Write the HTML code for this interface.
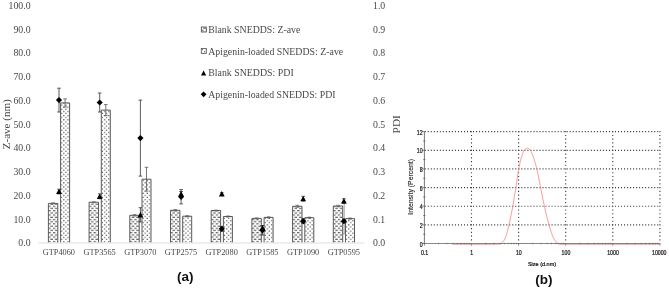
<!DOCTYPE html>
<html><head><meta charset="utf-8"><title>Figure</title>
<style>
html,body{margin:0;padding:0;background:#fff;}
svg{display:block;will-change:transform;}
.s{font-family:"Liberation Serif","DejaVu Serif",serif;fill:#484848;}
.a{font-family:"Liberation Sans","DejaVu Sans",sans-serif;fill:#111;}
.t{stroke:#111;stroke-width:0.22px;}
</style></head><body>
<svg width="669" height="289" viewBox="0 0 669 289">
<defs>
<pattern id="pb" width="4.5" height="4.4" patternUnits="userSpaceOnUse">
<rect width="4.5" height="4.4" fill="#fff"/>
<rect x="2.0" y="0.6" width="2.5" height="1" fill="#444"/>
<rect x="0" y="2.8" width="2.3" height="1" fill="#444"/>
</pattern>
<pattern id="pl" width="4.2" height="4.2" patternUnits="userSpaceOnUse">
<rect width="4.2" height="4.2" fill="#fff"/>
<rect x="0.5" y="0.5" width="1.2" height="1.2" fill="#555"/>
<rect x="2.6" y="2.6" width="1.2" height="1.2" fill="#555"/>
</pattern>
</defs>
<rect width="669" height="289" fill="#fff"/>

<text class="s" x="30.6" y="246.4" font-size="9.8" text-anchor="end">0.0</text>
<text class="s" x="30.6" y="222.7" font-size="9.8" text-anchor="end">10.0</text>
<text class="s" x="30.6" y="198.9" font-size="9.8" text-anchor="end">20.0</text>
<text class="s" x="30.6" y="175.2" font-size="9.8" text-anchor="end">30.0</text>
<text class="s" x="30.6" y="151.4" font-size="9.8" text-anchor="end">40.0</text>
<text class="s" x="30.6" y="127.6" font-size="9.8" text-anchor="end">50.0</text>
<text class="s" x="30.6" y="103.9" font-size="9.8" text-anchor="end">60.0</text>
<text class="s" x="30.6" y="80.1" font-size="9.8" text-anchor="end">70.0</text>
<text class="s" x="30.6" y="56.4" font-size="9.8" text-anchor="end">80.0</text>
<text class="s" x="30.6" y="32.6" font-size="9.8" text-anchor="end">90.0</text>
<text class="s" x="30.6" y="8.9" font-size="9.8" text-anchor="end">100.0</text>
<text class="s" x="373" y="246.4" font-size="9.8">0.0</text>
<text class="s" x="373" y="222.7" font-size="9.8">0.1</text>
<text class="s" x="373" y="198.9" font-size="9.8">0.2</text>
<text class="s" x="373" y="175.2" font-size="9.8">0.3</text>
<text class="s" x="373" y="151.4" font-size="9.8">0.4</text>
<text class="s" x="373" y="127.6" font-size="9.8">0.5</text>
<text class="s" x="373" y="103.9" font-size="9.8">0.6</text>
<text class="s" x="373" y="80.1" font-size="9.8">0.7</text>
<text class="s" x="373" y="56.4" font-size="9.8">0.8</text>
<text class="s" x="373" y="32.6" font-size="9.8">0.9</text>
<text class="s" x="373" y="8.9" font-size="9.8">1.0</text>
<text class="s" font-size="10.8" textLength="50" lengthAdjust="spacingAndGlyphs" transform="translate(10.0,149.3) rotate(-90)">Z-ave (nm)</text>
<text class="s" font-size="11.4" textLength="18.2" lengthAdjust="spacingAndGlyphs" transform="translate(400.4,133.4) rotate(-90)">PDI</text>
<g transform="translate(48.4,242.6)"><rect x="0" y="-39.2" width="9.4" height="39.2" fill="url(#pb)"/><path d="M0 0V-39.2h9.4V0" fill="none" stroke="#484848" stroke-width="0.9"/></g>
<g transform="translate(60.6,242.6)"><rect x="0" y="-139.7" width="9.0" height="139.7" fill="url(#pl)"/><path d="M0 0V-139.7h9.0V0" fill="none" stroke="#484848" stroke-width="0.9"/></g>
<path d="M53.1 202.9V203.9M51.3 202.9H54.9M51.3 203.9H54.9" stroke="#666" stroke-width="0.8" fill="none"/>
<path d="M65.1 98.9V107.0M63.3 98.9H66.9M63.3 107.0H66.9" stroke="#555" stroke-width="0.8" fill="none"/>
<text class="s" x="58.9" y="255.3" font-size="8.3" text-anchor="middle">GTP4060</text>
<g transform="translate(89.1,242.6)"><rect x="0" y="-40.4" width="9.4" height="40.4" fill="url(#pb)"/><path d="M0 0V-40.4h9.4V0" fill="none" stroke="#484848" stroke-width="0.9"/></g>
<g transform="translate(101.3,242.6)"><rect x="0" y="-132.5" width="9.0" height="132.5" fill="url(#pl)"/><path d="M0 0V-132.5h9.0V0" fill="none" stroke="#484848" stroke-width="0.9"/></g>
<path d="M93.8 201.8V202.7M92.0 201.8H95.6M92.0 202.7H95.6" stroke="#666" stroke-width="0.8" fill="none"/>
<path d="M105.8 104.6V115.5M104.0 104.6H107.6M104.0 115.5H107.6" stroke="#555" stroke-width="0.8" fill="none"/>
<text class="s" x="99.6" y="255.3" font-size="8.3" text-anchor="middle">GTP3565</text>
<g transform="translate(129.8,242.6)"><rect x="0" y="-27.3" width="9.4" height="27.3" fill="url(#pb)"/><path d="M0 0V-27.3h9.4V0" fill="none" stroke="#484848" stroke-width="0.9"/></g>
<g transform="translate(142.0,242.6)"><rect x="0" y="-63.4" width="9.0" height="63.4" fill="url(#pl)"/><path d="M0 0V-63.4h9.0V0" fill="none" stroke="#484848" stroke-width="0.9"/></g>
<path d="M134.5 214.6V216.0M132.7 214.6H136.3M132.7 216.0H136.3" stroke="#666" stroke-width="0.8" fill="none"/>
<path d="M146.5 167.3V191.1M144.7 167.3H148.3M144.7 191.1H148.3" stroke="#555" stroke-width="0.8" fill="none"/>
<text class="s" x="140.3" y="255.3" font-size="8.3" text-anchor="middle">GTP3070</text>
<g transform="translate(170.5,242.6)"><rect x="0" y="-32.3" width="9.4" height="32.3" fill="url(#pb)"/><path d="M0 0V-32.3h9.4V0" fill="none" stroke="#484848" stroke-width="0.9"/></g>
<g transform="translate(182.7,242.6)"><rect x="0" y="-26.4" width="9.0" height="26.4" fill="url(#pl)"/><path d="M0 0V-26.4h9.0V0" fill="none" stroke="#484848" stroke-width="0.9"/></g>
<path d="M175.2 209.6V211.0M173.4 209.6H177.0M173.4 211.0H177.0" stroke="#666" stroke-width="0.8" fill="none"/>
<path d="M187.2 215.8V216.7M185.4 215.8H189.0M185.4 216.7H189.0" stroke="#555" stroke-width="0.8" fill="none"/>
<text class="s" x="181.0" y="255.3" font-size="8.3" text-anchor="middle">GTP2575</text>
<g transform="translate(211.2,242.6)"><rect x="0" y="-32.1" width="9.4" height="32.1" fill="url(#pb)"/><path d="M0 0V-32.1h9.4V0" fill="none" stroke="#484848" stroke-width="0.9"/></g>
<g transform="translate(223.4,242.6)"><rect x="0" y="-26.1" width="9.0" height="26.1" fill="url(#pl)"/><path d="M0 0V-26.1h9.0V0" fill="none" stroke="#484848" stroke-width="0.9"/></g>
<path d="M215.9 210.1V211.0M214.1 210.1H217.7M214.1 211.0H217.7" stroke="#666" stroke-width="0.8" fill="none"/>
<path d="M227.9 216.0V216.9M226.1 216.0H229.7M226.1 216.9H229.7" stroke="#555" stroke-width="0.8" fill="none"/>
<text class="s" x="221.7" y="255.3" font-size="8.3" text-anchor="middle">GTP2080</text>
<g transform="translate(251.9,242.6)"><rect x="0" y="-24.2" width="9.4" height="24.2" fill="url(#pb)"/><path d="M0 0V-24.2h9.4V0" fill="none" stroke="#484848" stroke-width="0.9"/></g>
<g transform="translate(264.1,242.6)"><rect x="0" y="-25.2" width="9.0" height="25.2" fill="url(#pl)"/><path d="M0 0V-25.2h9.0V0" fill="none" stroke="#484848" stroke-width="0.9"/></g>
<path d="M256.6 217.9V218.8M254.8 217.9H258.4M254.8 218.8H258.4" stroke="#666" stroke-width="0.8" fill="none"/>
<path d="M268.6 216.9V217.9M266.8 216.9H270.4M266.8 217.9H270.4" stroke="#555" stroke-width="0.8" fill="none"/>
<text class="s" x="262.4" y="255.3" font-size="8.3" text-anchor="middle">GTP1585</text>
<g transform="translate(292.6,242.6)"><rect x="0" y="-36.3" width="9.4" height="36.3" fill="url(#pb)"/><path d="M0 0V-36.3h9.4V0" fill="none" stroke="#484848" stroke-width="0.9"/></g>
<g transform="translate(304.8,242.6)"><rect x="0" y="-24.9" width="9.0" height="24.9" fill="url(#pl)"/><path d="M0 0V-24.9h9.0V0" fill="none" stroke="#484848" stroke-width="0.9"/></g>
<path d="M297.3 205.3V207.2M295.5 205.3H299.1M295.5 207.2H299.1" stroke="#666" stroke-width="0.8" fill="none"/>
<path d="M309.3 217.2V218.1M307.5 217.2H311.1M307.5 218.1H311.1" stroke="#555" stroke-width="0.8" fill="none"/>
<text class="s" x="303.1" y="255.3" font-size="8.3" text-anchor="middle">GTP1090</text>
<g transform="translate(333.3,242.6)"><rect x="0" y="-36.6" width="9.4" height="36.6" fill="url(#pb)"/><path d="M0 0V-36.6h9.4V0" fill="none" stroke="#484848" stroke-width="0.9"/></g>
<g transform="translate(345.5,242.6)"><rect x="0" y="-24.0" width="9.0" height="24.0" fill="url(#pl)"/><path d="M0 0V-24.0h9.0V0" fill="none" stroke="#484848" stroke-width="0.9"/></g>
<path d="M338.0 205.3V206.7M336.2 205.3H339.8M336.2 206.7H339.8" stroke="#666" stroke-width="0.8" fill="none"/>
<path d="M350.0 218.1V219.1M348.2 218.1H351.8M348.2 219.1H351.8" stroke="#555" stroke-width="0.8" fill="none"/>
<text class="s" x="343.8" y="255.3" font-size="8.3" text-anchor="middle">GTP0595</text>
<line x1="38.6" x2="364.4" y1="243.0" y2="243.0" stroke="#dedede" stroke-width="1"/>
<path d="M59.0 88.2V112.0M57.2 88.2H60.8M57.2 112.0H60.8" stroke="#333" stroke-width="0.8" fill="none"/>
<path d="M59.0 189.2V193.9M57.2 189.2H60.8M57.2 193.9H60.8" stroke="#333" stroke-width="0.8" fill="none"/>
<path d="M59.0 188.7L61.9 194.1H56.1Z" fill="#000"/>
<path d="M59.0 97.0L62.1 100.1L59.0 103.2L55.9 100.1Z" fill="#000"/>
<path d="M99.7 93.0V112.0M97.9 93.0H101.5M97.9 112.0H101.5" stroke="#333" stroke-width="0.8" fill="none"/>
<path d="M99.7 193.9V198.7M97.9 193.9H101.5M97.9 198.7H101.5" stroke="#333" stroke-width="0.8" fill="none"/>
<path d="M99.7 193.5L102.6 198.9H96.8Z" fill="#000"/>
<path d="M99.7 99.4L102.8 102.5L99.7 105.6L96.6 102.5Z" fill="#000"/>
<path d="M140.4 100.1V176.1M138.6 100.1H142.2M138.6 176.1H142.2" stroke="#333" stroke-width="0.8" fill="none"/>
<path d="M140.4 207.7V221.9M138.6 207.7H142.2M138.6 221.9H142.2" stroke="#333" stroke-width="0.8" fill="none"/>
<path d="M140.4 212.0L143.3 217.4H137.5Z" fill="#000"/>
<path d="M140.4 135.0L143.5 138.1L140.4 141.2L137.3 138.1Z" fill="#000"/>
<path d="M181.1 189.6V203.9M179.3 189.6H182.9M179.3 203.9H182.9" stroke="#333" stroke-width="0.8" fill="none"/>
<path d="M181.1 191.5V196.3M179.3 191.5H182.9M179.3 196.3H182.9" stroke="#333" stroke-width="0.8" fill="none"/>
<path d="M181.1 191.1L184.0 196.5H178.2Z" fill="#000"/>
<path d="M181.1 193.7L184.2 196.8L181.1 199.9L178.0 196.8Z" fill="#000"/>
<path d="M221.8 226.4V231.2M220.0 226.4H223.6M220.0 231.2H223.6" stroke="#333" stroke-width="0.8" fill="none"/>
<path d="M221.8 192.7V195.1M220.0 192.7H223.6M220.0 195.1H223.6" stroke="#333" stroke-width="0.8" fill="none"/>
<path d="M221.8 191.1L224.7 196.5H218.9Z" fill="#000"/>
<path d="M221.8 225.7L224.9 228.8L221.8 231.9L218.7 228.8Z" fill="#000"/>
<path d="M262.5 225.5V235.0M260.7 225.5H264.3M260.7 235.0H264.3" stroke="#333" stroke-width="0.8" fill="none"/>
<path d="M262.5 225.5V230.2M260.7 225.5H264.3M260.7 230.2H264.3" stroke="#333" stroke-width="0.8" fill="none"/>
<path d="M262.5 225.1L265.4 230.5H259.6Z" fill="#000"/>
<path d="M262.5 227.2L265.6 230.2L262.5 233.3L259.4 230.2Z" fill="#000"/>
<path d="M303.2 218.8V223.6M301.4 218.8H305.0M301.4 223.6H305.0" stroke="#333" stroke-width="0.8" fill="none"/>
<path d="M303.2 196.3V201.0M301.4 196.3H305.0M301.4 201.0H305.0" stroke="#333" stroke-width="0.8" fill="none"/>
<path d="M303.2 195.9L306.1 201.3H300.3Z" fill="#000"/>
<path d="M303.2 218.1L306.3 221.2L303.2 224.3L300.1 221.2Z" fill="#000"/>
<path d="M344.2 201.8V233.8M342.4 201.8H346.0M342.4 233.8H346.0" stroke="#8a8a8a" stroke-width="0.8" fill="none"/>
<path d="M343.9 198.7V203.4M342.1 198.7H345.7M342.1 203.4H345.7" stroke="#333" stroke-width="0.8" fill="none"/>
<path d="M343.9 198.2L346.8 203.6H341.0Z" fill="#000"/>
<path d="M343.9 218.1L347.0 221.2L343.9 224.3L340.8 221.2Z" fill="#000"/>
<g transform="translate(201.3,27.0)"><rect x="0" y="0" width="5" height="5" fill="url(#pb)" stroke="#444" stroke-width="0.8"/></g>
<text class="s" x="208.2" y="33" font-size="9.9" textLength="92.2" lengthAdjust="spacingAndGlyphs">Blank SNEDDS: Z-ave</text>
<g transform="translate(201.3,48.5)"><rect x="0" y="0" width="5" height="5" fill="url(#pl)" stroke="#555" stroke-width="0.8"/></g>
<text class="s" x="208.2" y="54.5" font-size="9.9" textLength="135" lengthAdjust="spacingAndGlyphs">Apigenin-loaded SNEDDS: Z-ave</text>
<path d="M203.6 70.6L206.2 75.6H201.0Z" fill="#000"/>
<text class="s" x="208.2" y="76.3" font-size="9.9" textLength="85.5" lengthAdjust="spacingAndGlyphs">Blank SNEDDS: PDI</text>
<path d="M203.6 91.4L206.5 94.3L203.6 97.2L200.7 94.3Z" fill="#000"/>
<text class="s" x="208.2" y="97.6" font-size="9.9" textLength="127.4" lengthAdjust="spacingAndGlyphs">Apigenin-loaded SNEDDS: PDI</text>
<text class="a" x="185.2" y="281.2" font-size="13.5" font-weight="bold" text-anchor="middle" fill="#111">(a)</text>
<text class="a" x="543.9" y="283.8" font-size="13.5" font-weight="bold" text-anchor="middle" fill="#111">(b)</text>
<line x1="424.7" x2="660.4" y1="224.86" y2="224.86" stroke="#3a3a3a" stroke-width="1.15" stroke-dasharray="1.05 1.97"/>
<line x1="424.7" x2="660.4" y1="206.22" y2="206.22" stroke="#3a3a3a" stroke-width="1.15" stroke-dasharray="1.05 1.97"/>
<line x1="424.7" x2="660.4" y1="187.58" y2="187.58" stroke="#3a3a3a" stroke-width="1.15" stroke-dasharray="1.05 1.97"/>
<line x1="424.7" x2="660.4" y1="168.94" y2="168.94" stroke="#3a3a3a" stroke-width="1.15" stroke-dasharray="1.05 1.97"/>
<line x1="424.7" x2="660.4" y1="150.30" y2="150.30" stroke="#3a3a3a" stroke-width="1.15" stroke-dasharray="1.05 1.97"/>
<line x1="424.7" x2="660.4" y1="131.66" y2="131.66" stroke="#3a3a3a" stroke-width="1.15" stroke-dasharray="1.05 1.97"/>
<line x1="471.50" x2="471.50" y1="131.16" y2="243.5" stroke="#3a3a3a" stroke-width="1.1" stroke-dasharray="1.15 2.578"/>
<line x1="518.60" x2="518.60" y1="131.16" y2="243.5" stroke="#3a3a3a" stroke-width="1.1" stroke-dasharray="1.15 2.578"/>
<line x1="565.70" x2="565.70" y1="131.16" y2="243.5" stroke="#3a3a3a" stroke-width="1.1" stroke-dasharray="1.15 2.578"/>
<line x1="612.80" x2="612.80" y1="131.16" y2="243.5" stroke="#3a3a3a" stroke-width="1.1" stroke-dasharray="1.15 2.578"/>
<line x1="659.90" x2="659.90" y1="131.16" y2="243.5" stroke="#3a3a3a" stroke-width="1.1" stroke-dasharray="1.15 2.578"/>
<path d="M422.2 243.5H424.4M423.2 234.2H425.4M422.2 224.9H424.4M423.2 215.5H425.4M422.2 206.2H424.4M423.2 196.9H425.4M422.2 187.6H424.4M423.2 178.3H425.4M422.2 168.9H424.4M423.2 159.6H425.4M422.2 150.3H424.4M423.2 141.0H425.4M422.2 131.7H424.4M424.4 243.5V245.7M438.6 242.8V244.2M446.9 242.8V244.2M452.8 242.8V244.2M457.3 242.8V244.2M461.1 242.8V244.2M464.2 242.8V244.2M466.9 242.8V244.2M469.3 242.8V244.2M471.5 243.5V245.7M485.7 242.8V244.2M494.0 242.8V244.2M499.9 242.8V244.2M504.4 242.8V244.2M508.2 242.8V244.2M511.3 242.8V244.2M514.0 242.8V244.2M516.4 242.8V244.2M518.6 243.5V245.7M532.8 242.8V244.2M541.1 242.8V244.2M547.0 242.8V244.2M551.5 242.8V244.2M555.3 242.8V244.2M558.4 242.8V244.2M561.1 242.8V244.2M563.5 242.8V244.2M565.7 243.5V245.7M579.9 242.8V244.2M588.2 242.8V244.2M594.1 242.8V244.2M598.6 242.8V244.2M602.4 242.8V244.2M605.5 242.8V244.2M608.2 242.8V244.2M610.6 242.8V244.2M612.8 243.5V245.7M627.0 242.8V244.2M635.3 242.8V244.2M641.2 242.8V244.2M645.7 242.8V244.2M649.5 242.8V244.2M652.6 242.8V244.2M655.3 242.8V244.2M657.7 242.8V244.2M659.9 243.5V245.7" stroke="#555" stroke-width="0.7" fill="none"/>
<text class="a t" x="419.7" y="246.5" font-size="6.5" textLength="2.9" lengthAdjust="spacingAndGlyphs">0</text>
<text class="a t" x="419.7" y="227.9" font-size="6.5" textLength="2.9" lengthAdjust="spacingAndGlyphs">2</text>
<text class="a t" x="419.7" y="209.2" font-size="6.5" textLength="2.9" lengthAdjust="spacingAndGlyphs">4</text>
<text class="a t" x="419.7" y="190.6" font-size="6.5" textLength="2.9" lengthAdjust="spacingAndGlyphs">6</text>
<text class="a t" x="419.7" y="171.9" font-size="6.5" textLength="2.9" lengthAdjust="spacingAndGlyphs">8</text>
<text class="a t" x="416.8" y="153.3" font-size="6.5" textLength="5.8" lengthAdjust="spacingAndGlyphs">10</text>
<text class="a t" x="416.8" y="134.7" font-size="6.5" textLength="5.8" lengthAdjust="spacingAndGlyphs">12</text>
<text class="a t" x="420.9" y="255" font-size="6.5" textLength="7.3" lengthAdjust="spacingAndGlyphs">0.1</text>
<text class="a t" x="470.2" y="255" font-size="6.5" textLength="2.9" lengthAdjust="spacingAndGlyphs">1</text>
<text class="a t" x="515.9" y="255" font-size="6.5" textLength="5.8" lengthAdjust="spacingAndGlyphs">10</text>
<text class="a t" x="561.6" y="255" font-size="6.5" textLength="8.7" lengthAdjust="spacingAndGlyphs">100</text>
<text class="a t" x="607.2" y="255" font-size="6.5" textLength="11.6" lengthAdjust="spacingAndGlyphs">1000</text>
<text class="a t" x="652.0" y="255" font-size="6.5" textLength="14.5" lengthAdjust="spacingAndGlyphs">10000</text>
<text class="a t" x="527.9" y="265.7" font-size="6" textLength="28.2" lengthAdjust="spacingAndGlyphs">Size (d.nm)</text>
<text class="a" style="stroke:#111;stroke-width:0.1px" font-size="6.6" textLength="55.7" lengthAdjust="spacingAndGlyphs" transform="translate(413,214.7) rotate(-90)">Intensity (Percent)</text>
<path d="M452.6 244.3C455.50 244.30 463.77 244.30 470.0 244.30C476.23 244.30 485.42 244.30 490.0 244.30C494.58 244.30 495.72 244.30 497.5 244.30C499.28 244.23 499.42 244.30 500.7 243.90C501.98 242.88 503.82 241.40 505.2 238.23C506.58 235.06 507.73 230.19 509.0 224.86C510.27 219.53 511.65 212.43 512.8 206.22C513.95 200.01 514.92 193.79 515.9 187.58C516.88 181.37 517.80 173.91 518.7 168.94C519.60 163.97 520.38 160.86 521.3 157.76C522.22 154.65 523.18 151.88 524.2 150.30C525.22 148.72 526.37 148.25 527.4 148.25C528.43 148.25 529.37 148.72 530.4 150.30C531.43 151.88 532.53 154.65 533.6 157.76C534.67 160.86 535.63 163.97 536.8 168.94C537.97 173.91 539.33 181.37 540.6 187.58C541.87 193.79 543.00 200.01 544.4 206.22C545.80 212.43 547.47 219.53 549.0 224.86C550.53 230.19 552.02 235.06 553.6 238.23C555.18 241.40 557.10 242.88 558.5 243.90C559.90 244.30 558.42 244.23 562.0 244.30C565.58 244.30 570.33 244.30 580.0 244.30C589.67 244.30 606.70 244.30 620.0 244.30C633.30 244.30 653.17 244.30 659.8 244.30" stroke="#f68581" stroke-width="0.8" fill="none"/>
<line x1="424.4" x2="424.4" y1="131.2" y2="244.0" stroke="#555" stroke-width="0.8"/>
<line x1="424.4" x2="659.9" y1="243.5" y2="243.5" stroke="#606060" stroke-width="0.75"/>
</svg></body></html>
